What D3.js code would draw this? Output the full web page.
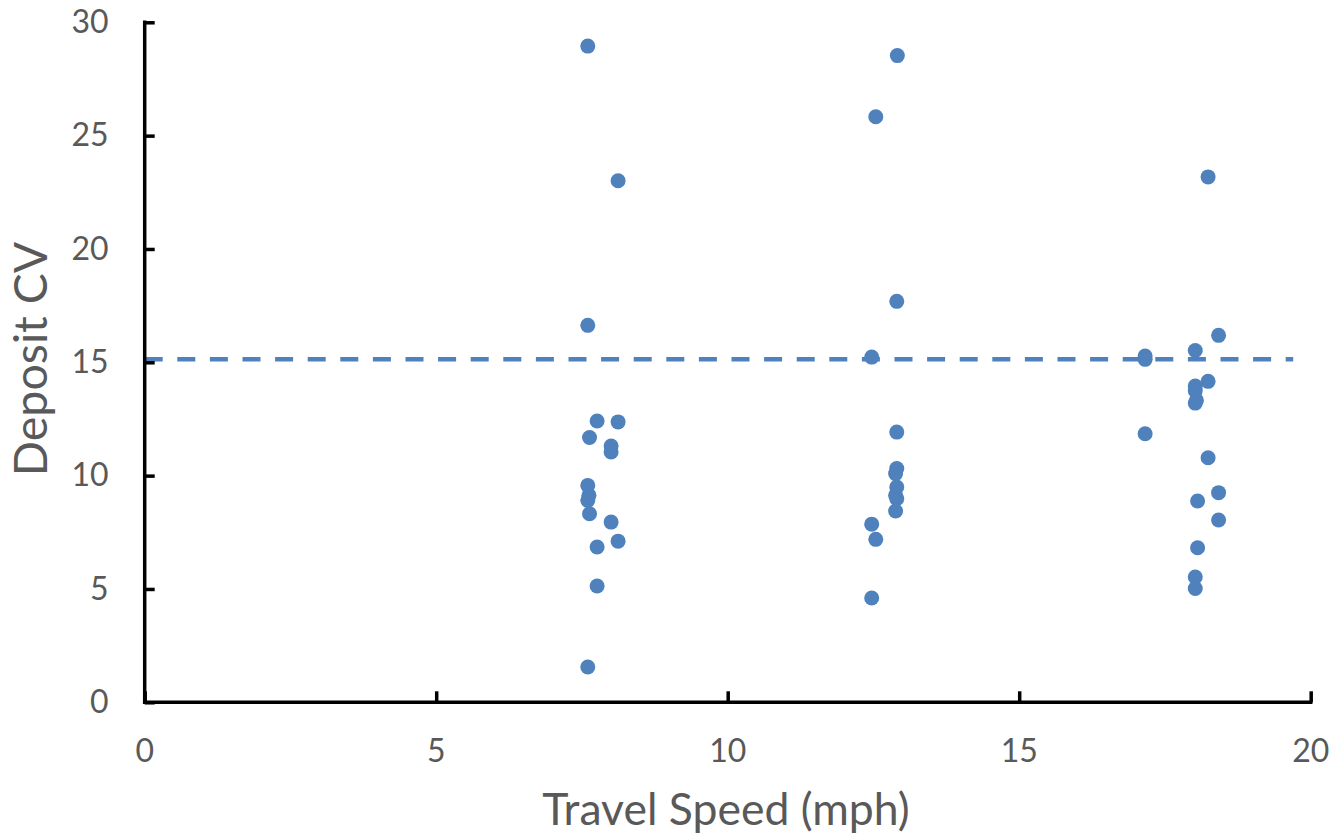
<!DOCTYPE html>
<html>
<head>
<meta charset="utf-8">
<script src="https://cdn.jsdelivr.net/npm/d3@7"></script>
<style>
  html, body { margin: 0; padding: 0; background: #fff; }
  svg { display: block; }
  text { font-family: Lato, "Open Sans", sans-serif; fill: #595959; }
</style>
</head>
<body>
<svg id="chart" width="1338" height="839"></svg>
<script>
// ---- data ----
const speed = [
  7.60, 8.12, 7.60, 7.76, 8.12, 7.63, 8.00, 8.00, 7.60, 7.62, 7.60, 7.63, 8.00, 8.12, 7.76, 7.76, 7.60,
  12.91, 12.54, 12.90, 12.47, 12.90, 12.90, 12.88, 12.90, 12.88, 12.90, 12.88, 12.47, 12.54, 12.47,
  18.24, 18.42, 18.02, 17.16, 17.16, 18.24, 18.02, 18.02, 18.04, 18.02, 17.16, 18.24, 18.42, 18.06, 18.42, 18.06, 18.02, 18.02
];
const depositCV = [
  28.95, 23.01, 16.63, 12.41, 12.37, 11.68, 11.31, 11.04, 9.57, 9.13, 8.91, 8.32, 7.95, 7.11, 6.85, 5.13, 1.56,
  28.53, 25.83, 17.69, 15.23, 11.92, 10.31, 10.09, 9.50, 9.13, 8.98, 8.44, 7.86, 7.19, 4.60,
  23.18, 16.19, 15.52, 15.28, 15.13, 14.16, 13.95, 13.75, 13.32, 13.20, 11.85, 10.79, 9.25, 8.88, 8.04, 6.82, 5.53, 5.02
];
const refLineX = [0, 19.7];
const refLineY = [15.13, 15.13];
const xTicks = [0, 5, 10, 15, 20];
const yTicks = [0, 5, 10, 15, 20, 25, 30];
const xTitle = "Travel Speed (mph)";
const yTitle = "Deposit CV";

// ---- layout ----
const svg = d3.select("#chart");
const x = d3.scaleLinear().domain([0, 20]).range([144.7, 1310.7]);
const y = d3.scaleLinear().domain([0, 30]).range([702.3, 22.3]);
const blue = "#4F81BD";

// reference dashed line
svg.append("path")
  .datum(refLineX.map((v, i) => [v, refLineY[i]]))
  .attr("d", d3.line().x(d => x(d[0])).y(d => y(d[1])))
  .attr("fill", "none")
  .attr("stroke", blue)
  .attr("stroke-width", 4.5)
  .attr("stroke-dasharray", "18,14.6");

// points
svg.append("g").selectAll("circle")
  .data(speed.map((v, i) => [v, depositCV[i]]))
  .join("circle")
  .attr("cx", d => x(d[0]))
  .attr("cy", d => y(d[1]))
  .attr("r", 7.5)
  .attr("fill", blue);

// axes
const xAxis = svg.append("g")
  .attr("transform", `translate(0,${y(0)})`)
  .call(d3.axisTop(x).tickValues(xTicks).tickSize(11).tickFormat(""));
const yAxis = svg.append("g")
  .attr("transform", `translate(${x(0)},0)`)
  .call(d3.axisRight(y).tickValues(yTicks).tickSize(10).tickFormat(""));
[xAxis, yAxis].forEach(g => {
  g.select(".domain").attr("stroke", "#000").attr("stroke-width", 3.5);
  g.selectAll(".tick line").attr("stroke", "#000").attr("stroke-width", 3.5);
});
xAxis.select(".domain").attr("d", `M${x(0) - 1.75},0H${x(20) + 1.75}`);
yAxis.select(".domain").attr("d", `M0,${y(30) - 1.75}V${y(0) + 1.75}`);

// tick labels
svg.append("g").selectAll("text")
  .data(xTicks)
  .join("text")
  .attr("x", d => x(d))
  .attr("y", 762)
  .attr("text-anchor", "middle")
  .attr("font-size", 32)
  .text(d => d);
svg.append("g").selectAll("text")
  .data(yTicks)
  .join("text")
  .attr("x", 108.5)
  .attr("y", d => y(d) + 10.8)
  .attr("text-anchor", "end")
  .attr("font-size", 32)
  .text(d => d);

// titles
svg.append("text")
  .attr("x", 726)
  .attr("y", 825)
  .attr("text-anchor", "middle")
  .attr("font-size", 44.5)
  .text(xTitle);
svg.append("text")
  .attr("transform", "translate(46.5,359) rotate(-90)")
  .attr("text-anchor", "middle")
  .attr("font-size", 46.5)
  .text(yTitle);
</script>
</body>
</html>
